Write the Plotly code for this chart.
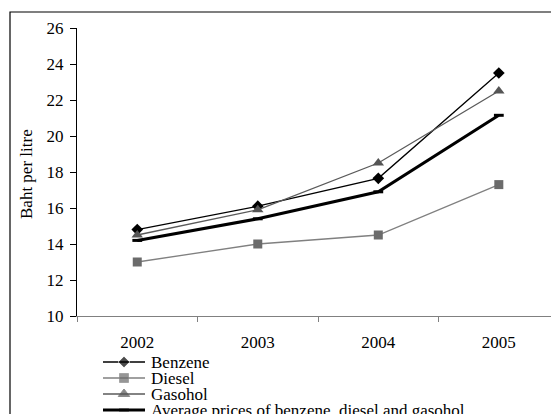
import plotly.graph_objects as go

# Fuel retail prices, baht per litre
years = ["2002", "2003", "2004", "2005"]
benzene = [14.8, 16.1, 17.65, 23.5]
diesel = [13.0, 14.0, 14.5, 17.3]
gasohol = [14.5, 15.9, 18.5, 22.5]
average = [14.2, 15.4, 16.9, 21.15]
y_ticks = [10, 12, 14, 16, 18, 20, 22, 24, 26]
series_names = ["Benzene", "Diesel", "Gasohol",
                "Average prices of benzene, diesel and gasohol"]

FONT = "Liberation Serif, Times New Roman, serif"
W, H = 551, 414


def px_x(p):
    return p / W


def px_y(p):
    return 1 - p / H


styles = [
    dict(line=dict(color="#000000", width=1.3),
         marker=dict(symbol="diamond", size=9, color="#000000")),
    dict(line=dict(color="#808080", width=1.3),
         marker=dict(symbol="square", size=9, color="#6b6b6b")),
    dict(line=dict(color="#5a5a5a", width=1.3),
         marker=dict(symbol="triangle-up", size=10, color="#555555")),
    dict(line=dict(color="#000000", width=3),
         marker=dict(symbol="line-ew", size=7, color="#000000",
                     line=dict(color="#000000", width=3))),
]
values = [benzene, diesel, gasohol, average]

fig = go.Figure()

for name, vals, st in zip(series_names, values, styles):
    fig.add_trace(go.Scatter(
        x=years, y=vals, name=name, mode="lines+markers",
        line=st["line"], marker=st["marker"], showlegend=False,
        xaxis="x", yaxis="y", cliponaxis=False,
    ))

# legend block: sample line with a marker in the middle, one row per series
for row, (name, st) in enumerate(zip(series_names, styles)):
    mk = dict(st["marker"])
    mk["size"] = [0, st["marker"]["size"], 0]
    fig.add_trace(go.Scatter(
        x=[0, 0.5, 1], y=[row, row, row], mode="lines+markers",
        line=st["line"], marker=mk, showlegend=False, hoverinfo="skip",
        xaxis="x2", yaxis="y2", cliponaxis=False,
    ))
    fig.add_annotation(
        x=1, y=row, xref="x2", yref="y2", text=name, showarrow=False,
        xanchor="left", yanchor="middle", xshift=4,
        font=dict(family=FONT, size=17, color="#000000"),
    )

# y-axis title
fig.add_annotation(
    x=px_x(26), y=px_y(174), xref="paper", yref="paper",
    text="Baht per litre", textangle=-90, showarrow=False,
    xanchor="center", yanchor="middle",
    font=dict(family=FONT, size=17, color="#000000"),
)

# outer chart border
fig.add_shape(
    type="rect", xref="paper", yref="paper",
    x0=px_x(10), x1=1.1, y0=-0.1, y1=px_y(12),
    line=dict(color="#000000", width=1.2), fillcolor="rgba(0,0,0,0)",
    layer="below",
)

fig.update_layout(
    width=W, height=H,
    margin=dict(l=0, r=0, t=0, b=0, pad=0, autoexpand=False),
    paper_bgcolor="white", plot_bgcolor="rgba(0,0,0,0)",
    font=dict(family=FONT, size=17, color="#000000"),
    showlegend=False,
    xaxis=dict(
        domain=[px_x(77), 1],
        type="category", range=[-0.5, 3.433],
        showline=True, linecolor="#808080", linewidth=1.2,
        ticks="outside", tickson="boundaries", ticklen=5,
        tickcolor="#808080", tickwidth=1.2, tickangle=0,
        showgrid=False, zeroline=False, ticklabelstandoff=10,
        tickfont=dict(family=FONT, size=17),
    ),
    yaxis=dict(
        domain=[px_y(316), px_y(28)],
        range=[10, 26], tickvals=y_ticks,
        showline=True, linecolor="#000000", linewidth=1.2,
        ticks="outside", ticklen=6, tickcolor="#000000", tickwidth=1.2,
        showgrid=False, zeroline=False, ticklabelstandoff=3,
        tickfont=dict(family=FONT, size=17),
    ),
    xaxis2=dict(
        domain=[px_x(103), px_x(145)], range=[0, 1], anchor="y2",
        visible=False, fixedrange=True,
    ),
    yaxis2=dict(
        domain=[0, px_y(354)], range=[3.25, -0.5], anchor="x2",
        visible=False, fixedrange=True,
    ),
)

fig.write_html("out.html")
